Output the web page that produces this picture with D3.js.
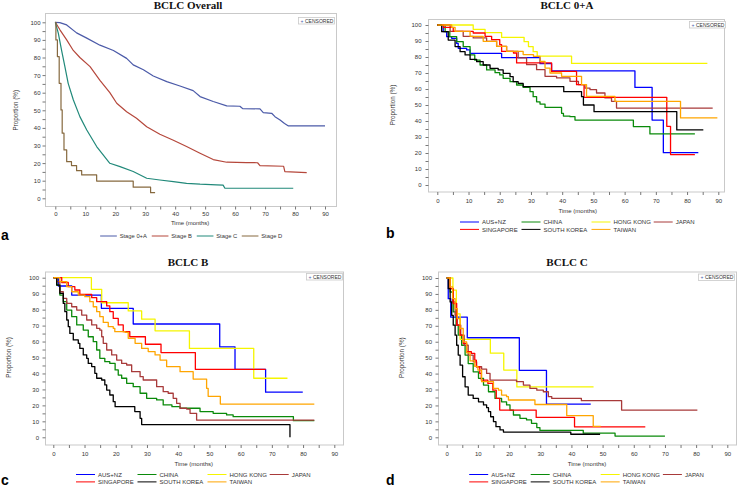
<!DOCTYPE html>
<html><head><meta charset="utf-8">
<script src="https://cdn.jsdelivr.net/npm/d3@7"></script>
<style>body{margin:0;background:#fff;} svg{display:block;} text{font-family:"Liberation Sans",Arial,sans-serif;}</style>
</head><body>
<svg id="chart" width="741" height="489"></svg>
<script>
// ---------------- DATA ----------------
const xTicks = [0,10,20,30,40,50,60,70,80,90];
const yTicks = [0,10,20,30,40,50,60,70,80,90,100];
const stageNames = ["Stage 0+A","Stage B","Stage C","Stage D"];
const countryNames = ["AUS+NZ","CHINA","HONG KONG","JAPAN","SINGAPORE","SOUTH KOREA","TAIWAN"];
const panelTitles = ["BCLC Overall","BCLC 0+A","BCLC B","BCLC C"];

// Panel a : BCLC Overall  [time (months), survival %]
const overallStage0A = [[0,100],[1.5,99.8],[3.8,98.5],[7.1,94],[10.5,91],[14.9,87],[19.4,84],[23.8,79.5],[26,75.8],[29.4,73],[32.7,69.5],[37.2,66.3],[41.6,63.8],[46,61.2],[48.3,57.8],[52.7,55],[57.2,52.5],[61.6,52.3],[62.5,51],[68.3,50.8],[69.4,48.7],[72.2,48.3],[73.3,46.4],[75,44.5],[76.5,42.5],[77.8,41.1],[90,41.1]];
const overallStageB = [[0,100],[1.6,95.6],[3.8,90],[6,84],[8.2,80],[11.6,74.8],[14.9,67],[18.2,60],[20.5,54],[23.8,49.2],[27.1,45.5],[30.5,40.7],[34.9,36.4],[39.4,33],[43.8,29.4],[48.3,25.6],[52.7,22],[57.2,20.5],[63.8,20.3],[67.5,20.2],[68.3,18.6],[76.2,18.2],[76.6,15.2],[83.9,14.6]];
const overallStageC = [[0,100],[1,93.8],[2.1,84],[3.2,74.8],[4.3,65.3],[6,56],[8.2,46.4],[10.5,38.8],[13.8,29.4],[18.2,19.9],[21.6,18],[26,15.2],[30.5,11.4],[34.9,10.4],[39.4,9.5],[43.8,8.5],[48.3,8],[53.8,7.6],[56,7.5],[56.6,5.7],[79.4,5.7]];
const overallStageD = [[0,100],[0.2,90],[0.7,80.5],[1.3,65.3],[1.9,50.2],[2.3,37],[2.9,27.5],[3.8,20.8],[5.4,18.6],[7.1,15.7],[8.8,13.3],[13.8,9.8],[26,6.3],[31.8,3.2],[33.3,3.2]];

// Panel b : BCLC 0+A
const b_ausnz = [[0,100],[1.9,95.8],[3,92.7],[4.6,91.7],[6.2,88.5],[6.7,85.4],[9.4,84.4],[10.5,82.3],[20.6,79.6],[32.9,75.8],[36.6,71.3],[63.3,61],[68.8,40.6],[72.4,20.2],[83.6,20.2]];
const b_china = [[0,100],[2.5,95.8],[4,92.7],[6.2,89.6],[8.3,86.5],[10.5,81.3],[12,78],[13.7,75],[15.8,71.9],[18.5,70.2],[20,68.8],[21.1,66.7],[23.3,64.6],[25.4,62.5],[27.5,61],[29.7,58.3],[30.7,55.2],[31.8,52],[32.9,50.6],[34.5,48.5],[39.8,44.8],[40.4,43.1],[42.5,42.7],[44.1,40.6],[62.8,36.5],[68.1,31.9],[82.5,31.9]];
const b_hongkong = [[0,100],[11.5,97.3],[15.3,95.2],[20.6,92.3],[27.8,89.6],[29.2,86.5],[30.7,83.3],[32,80.6],[43,76],[86.5,76]];
const b_japan = [[0,100],[4.1,96],[8.3,92.9],[11.5,91.9],[15.8,89.8],[19,86.7],[22.2,83.5],[25.9,79.4],[28.6,75.2],[31.8,72.1],[34.5,67.9],[38.2,66.9],[42.5,64.8],[45.2,62.7],[47.3,60.6],[48.9,59.6],[51,57.5],[53.7,54.4],[55.8,52.3],[57.4,48.1],[88.2,48.1]];
const b_singapore = [[0,100],[2,98.5],[5.1,96],[11.5,95],[15.3,92.9],[17.4,90.8],[20,87.7],[20.6,83.5],[24.4,82.5],[25.4,76.3],[36.6,71],[44.6,62.7],[47,54.8],[73.5,36.7],[74.7,19],[82.5,19]];
const b_southkorea = [[0,100],[1.4,95.8],[3.5,90.6],[5.7,86.5],[7.3,83.3],[8.9,81.3],[10.5,78.5],[12.6,77.1],[14.7,75],[16.9,72.9],[19.5,71.9],[21.1,69.8],[23.3,67.7],[24.3,64.6],[25.9,63.5],[27.5,61.5],[40.5,58.3],[46.2,55.2],[46.8,50],[50.2,45.8],[76.7,34.4],[85.2,34.4]];
const b_taiwan = [[0,100],[4.6,98.5],[5.7,96],[10.5,92.9],[14.7,89.8],[19,86.7],[22.2,83.5],[27.5,81.5],[30.8,80.4],[32.9,77.3],[34.5,73.1],[36.1,70],[39.8,67.9],[46.2,62.7],[47.8,55.4],[56.9,52.3],[77.9,41.9],[89.7,41.9]];

// Panel c : BCLC B
const c_ausnz = [[0,100],[1.6,94.8],[5.9,89.1],[15.4,80.8],[25.6,71],[53.3,56.6],[58.2,42.6],[68,28.3],[79.9,28.3]];
const c_china = [[0,100],[1.1,95.4],[2.1,89.1],[3.2,85],[4.3,79.7],[5.9,75.6],[7.5,70.4],[9.6,67.2],[11.2,63],[12.8,59.9],[13.9,54.7],[14.9,49.5],[16.5,47.4],[18.1,46.3],[19.8,42.2],[20.8,39],[21.9,37],[23.5,33.8],[25.6,31.7],[27.8,27.6],[29.9,24.4],[33.1,23.4],[35.2,20.3],[38,19.2],[40.6,18.2],[47,16.1],[51.2,15],[55.5,14],[57.6,12.9],[76.9,10.4],[83.6,10.4]];
const c_hongkong = [[0,100],[12.2,92.7],[15.5,84.3],[24,79.2],[28.3,74],[32.6,66.7],[43.6,55.7],[64.2,37],[75,37]];
const c_japan = [[0,100],[1.1,97.5],[2.1,91.2],[3.2,87],[4.3,83.9],[5.9,81.8],[7.5,79.7],[9.1,76.6],[10.7,73.5],[12.3,70.4],[13.9,68.3],[14.9,67.2],[15.5,63],[16,58.9],[17.1,54.7],[18.7,51.6],[20.3,48.4],[21.9,46.3],[23.5,45.3],[25.1,41.1],[27.8,38],[28.8,35.9],[33.1,31.7],[35.2,28.6],[36.8,27.6],[38.4,24.4],[39.5,21.3],[40.6,18.2],[42.7,17.7],[43.8,15],[45.9,10.8],[83.6,10.8]];
const c_singapore = [[0,100],[2.7,97],[4.8,94.4],[6.9,92.3],[8.5,89.6],[12.3,87.5],[13.9,85],[17.1,82.3],[18.1,78.7],[19.2,74.5],[20.8,70.4],[22.4,66.2],[24.5,63],[29.5,58.3],[34.5,53.1],[45.5,42.6],[68,42.6]];
const c_southkorea = [[0,100],[1.1,95.4],[2.1,90.2],[3.2,83.9],[3.7,78.7],[4.3,73.5],[4.8,69.3],[5.3,65.1],[6.4,61],[8,58.9],[8.5,55.7],[9.6,51.6],[10.7,49.5],[11.2,46.3],[12.3,44.3],[13.3,40.1],[13.9,37],[15.5,35.9],[16.5,32.8],[17.1,29.6],[18.1,26.5],[19.2,22.3],[19.8,19.2],[26.1,16.1],[27.8,11.9],[28.3,8],[75.8,0]];
const c_taiwan = [[0,100],[2.1,97.5],[4.3,94.4],[5.9,91.2],[8,89.1],[10.1,88.1],[11.7,85],[12.8,81.8],[13.9,78.7],[14.9,75.6],[16,72],[17.6,69.3],[19.2,68.3],[19.7,66.2],[23,65.8],[24,62],[26.2,58.9],[28.3,55.7],[30.4,53.7],[32.6,51.6],[34.2,48.4],[36.3,44.3],[40.6,41.1],[44.8,36.5],[49.1,30.7],[49.6,25.7],[53.5,20.8],[83.6,20.8]];

// Panel d : BCLC C
const d_ausnz = [[0,100],[0.5,87],[1.3,75.4],[6.6,62.5],[23.3,42],[32,20.8],[46.2,20.8]];
const d_china = [[0,100],[1.1,91.2],[2.1,78.7],[3,70.4],[3.7,64.1],[4.8,57.8],[5.9,51.6],[6.9,46.3],[8.5,41.1],[10.2,37],[11.8,32.8],[13.4,28.6],[15.5,24.4],[17.6,22.3],[19.2,20.3],[20.3,17.1],[21.4,14],[23.5,11.9],[25.6,10.9],[27.2,8.8],[28.9,6.1],[29.9,4.3],[43.8,2.6],[54,0.8],[70,0.8]];
const d_hongkong = [[0,100],[2,92.4],[3.1,77.5],[4.3,61.5],[14,52.8],[18.3,42.2],[22.5,31.6],[47.1,31.6]];
const d_japan = [[0,100],[1.1,93.3],[1.9,85],[2.7,76.6],[3.4,70.4],[4.5,64.1],[5.6,57.8],[6.9,51.6],[8.5,47.4],[9.6,44.3],[11.2,42.8],[12.8,40.1],[13.9,35.9],[22.4,34.9],[24.6,32.8],[26.7,30.7],[28.9,29.6],[31,28.6],[32.6,25.5],[33.7,24.4],[43.2,23],[56.1,17.1],[80.4,17.1]];
const d_singapore = [[0,100],[1.1,93.3],[2.1,84],[3.2,70.4],[4.3,64.1],[5.3,58.9],[6.4,53.7],[7.9,52.7],[9,48.5],[9.5,44.3],[10.6,40.1],[11.1,35.9],[13.2,33.8],[14.8,29.6],[15.9,24.4],[17,17.1],[28.7,12.5],[41,6.5],[63.7,6.5]];
const d_southkorea = [[0,100],[0.5,93.3],[1.1,85],[1.6,76.6],[2.1,70.4],[2.7,64.1],[3.2,57.8],[3.7,51.6],[4.3,45.3],[5.1,38],[5.9,31.7],[6.9,26.5],[8.5,24.4],[10.2,22.3],[11.8,20.3],[12.8,18.6],[13.4,16.1],[14.1,12.9],[15,9.8],[15.8,6.7],[17.1,4.6],[18.2,3.3],[39.8,1.9],[49.2,1.9]];
const d_taiwan = [[0,100],[1.1,94.4],[1.9,87],[2.7,80.8],[3.4,74.5],[4.3,68.3],[5.3,59.9],[6.4,53],[7.5,48],[9,44.5],[10,42.2],[11.2,34.9],[15,30.7],[16.6,29.6],[17.6,26.5],[19.2,25.5],[19.8,23.4],[28.3,20.6],[38.5,13.6],[47,6.9],[49.4,6.9]];

// ---------------- STYLE ----------------
const stageColors = ["#4b5aa8","#b5473b","#21897a","#86693f"];
const countryColors = {"AUS+NZ":"#0000ff","CHINA":"#0a8a0a","HONG KONG":"#f5f500","JAPAN":"#a83a3a","SINGAPORE":"#ff0000","SOUTH KOREA":"#000000","TAIWAN":"#ffa500"};

const svg = d3.select("#chart");
svg.append("rect").attr("width",741).attr("height",489).attr("fill","#fff");

function countrySeries(arrs){ return countryNames.map((n,i)=>({name:n,color:countryColors[n],data:arrs[i],curve:d3.curveStepAfter})); }

const panels = [
  {letter:"a", title:panelTitles[0], frame:[45,13,336,206], xr:[55.3,325], yr:[198.3,22.3], titleY:9, titleX:188,
   ylabX:16, xlabY:225, xTickPad:2, yTickPad:2, letterPos:[1,240], cens:[298,17],
   series: stageNames.map((n,i)=>({name:n,color:stageColors[i],
     data:[overallStage0A,overallStageB,overallStageC,overallStageD][i],
     curve: i===3 ? d3.curveStepAfter : d3.curveLinear})),
   legend:"stage", legY:236, width:1.2},
  {letter:"b", title:panelTitles[1], frame:[428,19,724,191.5], xr:[437.3,718.3], yr:[185,25], titleY:9, titleX:567,
   ylabX:393, xlabY:213, xTickPad:4, yTickPad:4, letterPos:[386,238], cens:[689,21],
   series: countrySeries([b_ausnz,b_china,b_hongkong,b_japan,b_singapore,b_southkorea,b_taiwan]),
   legend:"country", legY:222, width:1.3},
  {letter:"c", title:panelTitles[2], frame:[45,271.5,343,444.5], xr:[53.3,334.3], yr:[437.3,277.7], titleY:266, titleX:188,
   ylabX:9, xlabY:465.5, xTickPad:3.5, yTickPad:3.5, letterPos:[1,485], cens:[306,273],
   series: countrySeries([c_ausnz,c_china,c_hongkong,c_japan,c_singapore,c_southkorea,c_taiwan]),
   legend:"country", legY:474.5, width:1.3},
  {letter:"d", title:panelTitles[3], frame:[438,271.5,736,444.5], xr:[446.7,727.3], yr:[437.3,278], titleY:266, titleX:567,
   ylabX:402, xlabY:465.5, xTickPad:3.5, yTickPad:3.5, letterPos:[386,485], cens:[698,273.5],
   series: countrySeries([d_ausnz,d_china,d_hongkong,d_japan,d_singapore,d_southkorea,d_taiwan]),
   legend:"country", legY:474.5, width:1.3}
];

panels.forEach(p=>{
  const [fx0,fy0,fx1,fy1] = p.frame;
  const g = svg.append("g");
  const x = d3.scaleLinear().domain([0,90]).range(p.xr);
  const y = d3.scaleLinear().domain([0,100]).range(p.yr);

  g.append("rect").attr("x",fx0+0.5).attr("y",fy0+0.5).attr("width",fx1-fx0).attr("height",fy1-fy0)
    .attr("fill","none").attr("stroke","#c9c9c9").attr("stroke-width",1);

  const xAxis = d3.axisBottom(x).tickValues(d3.range(0,95,5)).tickSize(3).tickPadding(p.xTickPad)
    .tickFormat(d=> xTicks.includes(d) ? d : "");
  const gx = g.append("g").attr("transform",`translate(0,${fy1+0.5})`).call(xAxis);
  const yAxis = d3.axisLeft(y).tickValues(d3.range(0,105,5)).tickSize(3).tickPadding(p.yTickPad)
    .tickFormat(d=> yTicks.includes(d) ? d : "");
  const gy = g.append("g").attr("transform",`translate(${fx0+0.5},0)`).call(yAxis);
  [gx,gy].forEach(ax=>{
    ax.select(".domain").remove();
    ax.selectAll(".tick line").attr("stroke","#777");
    ax.selectAll(".tick text").attr("fill","#333").style("font-size","6px").style("font-family","Liberation Sans, Arial, sans-serif");
  });

  g.append("text").attr("x",p.titleX).attr("y",p.titleY).attr("text-anchor","middle")
    .style("font-family","Liberation Serif, Times New Roman, serif").style("font-weight","bold").style("font-size","11px")
    .attr("fill","#111").text(p.title);

  const ymid = (p.yr[0]+p.yr[1])/2;
  g.append("text").attr("transform",`translate(${p.ylabX},${ymid}) rotate(-90)`).attr("text-anchor","middle")
    .attr("dy","0.35em").style("font-size","6.3px").attr("fill","#333").text("Proportion (%)");
  const xmid = (p.xr[0]+p.xr[1])/2;
  g.append("text").attr("x",xmid).attr("y",p.xlabY).attr("text-anchor","middle")
    .style("font-size","6px").attr("fill","#333").text("Time (months)");

  p.series.forEach(s=>{
    const line = d3.line().x(d=>x(d[0])).y(d=>y(d[1])).curve(s.curve);
    g.append("path").datum(s.data).attr("d",line).attr("fill","none")
      .attr("stroke",s.color).attr("stroke-width",p.width).attr("stroke-linejoin","round");
  });

  const [cx,cy] = p.cens;
  g.append("rect").attr("x",cx+0.5).attr("y",cy+0.5).attr("width",36).attr("height",6.5)
    .attr("fill","#fff").attr("stroke","#c9c9c9").attr("stroke-width",0.8);
  g.append("text").attr("x",cx+2.5).attr("y",cy+5.6).style("font-size","5px").attr("fill","#4b5aa8").text("+");
  g.append("text").attr("x",cx+7).attr("y",cy+5.6).style("font-size","5px").attr("fill","#333").text("CENSORED");

  if(p.legend==="stage"){
    const offs = [-90,-38.4,6.6,51.6];
    p.series.forEach((s,i)=>{
      const lx = xmid + offs[i];
      g.append("line").attr("x1",lx).attr("x2",lx+16.7).attr("y1",p.legY).attr("y2",p.legY)
        .attr("stroke",s.color).attr("stroke-width",1);
      g.append("text").attr("x",lx+19.5).attr("y",p.legY).attr("dy","0.35em")
        .style("font-size","5.8px").attr("fill","#333").text(s.name);
    });
  } else {
    const offs = [0,61.5,131.5,193.7];
    p.series.forEach((s,i)=>{
      const col = i%4, row = Math.floor(i/4);
      const lx = xmid - 117.8 + offs[col];
      const ly = p.legY + row*7.4;
      g.append("line").attr("x1",lx).attr("x2",lx+19).attr("y1",ly).attr("y2",ly)
        .attr("stroke",s.color).attr("stroke-width",1);
      g.append("text").attr("x",lx+22).attr("y",ly).attr("dy","0.35em")
        .style("font-size","6px").attr("fill","#333").text(s.name);
    });
  }

  svg.append("text").attr("x",p.letterPos[0]).attr("y",p.letterPos[1])
    .style("font-family","Liberation Sans, Arial, sans-serif").style("font-weight","bold").style("font-size","14px")
    .attr("fill","#000").text(p.letter);
});
</script>
</body></html>
